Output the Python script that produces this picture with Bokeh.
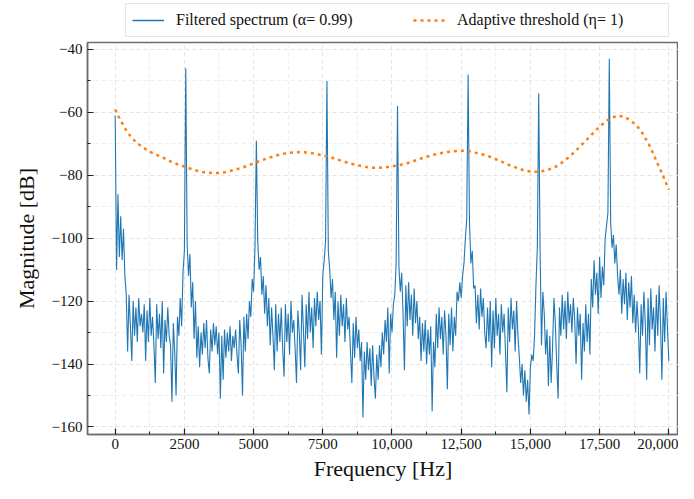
from bokeh.plotting import figure
from bokeh.layouts import column
from bokeh.models import FixedTicker, Legend, LegendItem, Range1d
from bokeh.embed import file_html
from bokeh.resources import INLINE

# ---- data ----
bin_hz = 50
spectrum_db = [
    -61, -110, -86, -106, -93, -107, -97, -112, -118, -136,
    -118, -128, -139, -120, -131, -122, -133, -119, -128, -124,
    -130, -121, -139, -123, -133, -119, -131, -125, -134, -146,
    -121, -132, -124, -135, -120, -143, -126, -133, -122, -131,
    -134, -152, -127, -136, -150, -125, -131, -119, -128, -111,
    -104, -46, -102, -112, -105, -122, -114, -132, -120, -138,
    -128, -141, -130, -137, -127, -135, -126, -138, -143, -129,
    -136, -127, -134, -128, -137, -130, -151, -131, -145, -129,
    -138, -130, -136, -128, -139, -131, -135, -129, -137, -143,
    -126, -134, -150, -125, -136, -124, -132, -120, -125, -113,
    -117, -103, -69, -101, -110, -106, -118, -112, -124, -115,
    -128, -119, -134, -122, -131, -142, -121, -136, -124, -133,
    -122, -135, -144, -121, -133, -124, -137, -120, -130, -126,
    -135, -146, -123, -130, -142, -118, -129, -141, -121, -132,
    -117, -130, -122, -135, -119, -128, -117, -126, -120, -137,
    -112, -107, -101, -50, -104, -110, -119, -113, -126, -117,
    -138, -120, -131, -118, -128, -121, -133, -119, -129, -125,
    -136, -146, -127, -138, -125, -135, -129, -139, -133, -157,
    -136, -145, -133, -142, -135, -147, -134, -144, -151, -137,
    -145, -134, -141, -130, -137, -126, -133, -122, -143, -124,
    -130, -121, -118, -108, -58, -109, -117, -111, -124, -142,
    -115, -128, -114, -126, -118, -131, -116, -127, -120, -132,
    -125, -139, -127, -136, -126, -140, -129, -137, -128, -155,
    -133, -141, -124, -135, -122, -132, -125, -137, -123, -131,
    -148, -124, -134, -122, -136, -125, -131, -117, -120, -114,
    -119, -112, -108, -100, -94, -48, -95, -108, -104, -116,
    -115, -127, -118, -129, -116, -125, -119, -130, -135, -122,
    -133, -120, -141, -123, -135, -119, -131, -124, -137, -121,
    -130, -124, -136, -149, -122, -133, -119, -129, -123, -136,
    -120, -131, -138, -146, -140, -150, -142, -152, -145, -156,
    -141, -137, -139, -131, -115, -103, -54, -104, -134, -117,
    -124, -137, -129, -147, -131, -146, -135, -119, -127, -140,
    -151, -122, -131, -118, -129, -120, -132, -117, -127, -121,
    -130, -119, -126, -140, -122, -131, -124, -145, -127, -136,
    -121, -133, -124, -137, -113, -122, -107, -118, -111, -124,
    -106, -119, -109, -115, -100, -96, -92, -43, -95, -103,
    -99, -108, -102, -112, -118, -110, -124, -113, -121, -111,
    -126, -114, -122, -112, -127, -118, -130, -120, -128, -143,
    -121, -131, -117, -127, -145, -119, -134, -116, -129, -122,
    -136, -118, -131, -115, -127, -145, -119, -133, -117, -128,
    -139,
]
freq_hz = [i * bin_hz for i in range(len(spectrum_db))]

thr_freq = [0, 100, 200, 300, 450, 600, 750, 900, 1100, 1300, 1500, 1750,
            2000, 2250, 2500, 2750, 3000, 3250, 3500, 3750, 4000, 4250,
            4500, 4750, 5000, 5250, 5500, 5750, 6000, 6250, 6500, 6750,
            7000, 7250, 7500, 7750, 8000, 8250, 8500, 8750, 9000, 9250,
            9500, 9750, 10000, 10250, 10500, 10750, 11000, 11250, 11500,
            11750, 12000, 12250, 12500, 12750, 13000, 13250, 13500, 13750,
            14000, 14250, 14500, 14750, 15000, 15250, 15500, 15750, 16000,
            16200, 16400, 16600, 16800, 17000, 17200, 17400, 17600, 17800,
            18000, 18200, 18400, 18600, 18800, 19000, 19150, 19300, 19450,
            19600, 19750, 19900, 20000]
thr_db = [-59.1, -61.0, -62.6, -64.2, -66.5, -68.0, -69.5, -70.5, -71.7, -72.7,
          -73.5, -74.5, -75.6, -76.5, -77.2, -78.0, -78.7, -79.1, -79.3, -79.3,
          -79.0, -78.4, -77.8, -77.1, -76.2, -75.4, -74.6, -73.9, -73.3, -72.9,
          -72.7, -72.6, -72.8, -73.2, -73.7, -74.2, -74.9, -75.6, -76.3, -76.8,
          -77.3, -77.6, -77.6, -77.5, -77.2, -76.8, -76.3, -75.6, -74.8, -74.1,
          -73.5, -73.0, -72.6, -72.4, -72.2, -72.3, -72.8, -73.3, -74.0, -74.9,
          -75.8, -76.8, -77.6, -78.4, -78.8, -78.9, -78.6, -77.9, -76.9, -75.6,
          -74.2, -72.5, -70.8, -69.0, -67.2, -65.4, -63.8, -62.4, -61.5, -61.1,
          -61.4, -62.5, -63.9, -65.9, -68.2, -70.5, -73.4, -76.4, -79.3, -82.5,
          -84.6]

x_ticks = [0, 2500, 5000, 7500, 10000, 12500, 15000, 17500, 20000]
x_tick_labels = ["0", "2500", "5000", "7500", "10,000", "12,500", "15,000",
                 "17,500", "20,000"]
x_minor = [1250, 3750, 6250, 8750, 11250, 13750, 16250, 18750]
y_ticks = [-160, -140, -120, -100, -80, -60, -40]
y_tick_labels = ["\u2212160", "\u2212140", "\u2212120", "\u2212100", "\u221280",
                 "\u221260", "\u221240"]
y_minor = [-150, -130, -110, -90, -70, -50]

label_spectrum = "Filtered spectrum (\u03b1= 0.99)"
label_threshold = "Adaptive threshold (\u03b7= 1)"

# ---- styles ----
FONT = "Liberation Serif"
BLUE, ORANGE = "#1f77b4", "#ff7f0e"
W = 678
LEG_H = 41
MAIN_H = 442
LEFT, BOTTOM = 87, 48

# ---- legend strip (sits above the plot frame; its frame is aligned with the plot's) ----
p_leg = figure(width=W, height=LEG_H, output_backend="svg",
               toolbar_location=None, x_axis_type=None, y_axis_type=None,
               x_range=Range1d(0, 1), y_range=Range1d(0, 1), min_border=0)
p_leg.outline_line_color = None
p_leg.background_fill_color = "white"
p_leg.border_fill_color = "white"
p_leg.xgrid.visible = False
p_leg.ygrid.visible = False
# same series as the plot; they fall outside this strip's ranges, so only the legend shows
lg1 = p_leg.line(freq_hz, spectrum_db, line_color=BLUE, line_width=1.3)
lg2 = p_leg.line(thr_freq, thr_db, line_color=ORANGE, line_width=2.5,
                 line_dash="3 4")

legend = Legend(items=[LegendItem(label=label_spectrum, renderers=[lg1]),
                       LegendItem(label=label_threshold, renderers=[lg2])],
                orientation="horizontal", location=(38, 4))
legend.label_text_font = FONT
legend.label_text_font_size = "16px"
legend.label_text_color = "#111111"
legend.border_line_color = "#cccccc"
legend.border_line_width = 1
legend.background_fill_color = "white"
legend.background_fill_alpha = 1
legend.padding = 6
legend.spacing = 32
legend.glyph_width = 32
legend.glyph_height = 20
legend.label_standoff = 12
legend.label_width = 205
legend.margin = 0
p_leg.add_layout(legend)

# ---- main plot ----
p = figure(width=W, height=MAIN_H,
           x_range=Range1d(-1000, 20350), y_range=Range1d(-162.4, -37.8),
           output_backend="svg", toolbar_location=None,
           min_border_left=LEFT, min_border_top=1, min_border_right=0,
           min_border_bottom=BOTTOM)
p.background_fill_color = "white"
p.border_fill_color = "white"
p.outline_line_color = "#6e6e6e"
p.outline_line_width = 1.5

p.line(freq_hz, spectrum_db, line_color=BLUE, line_width=1.1)
p.line(thr_freq, thr_db, line_color=ORANGE, line_width=2.5, line_dash="3 4")

p.xaxis.ticker = FixedTicker(ticks=x_ticks, minor_ticks=x_minor)
p.yaxis.ticker = FixedTicker(ticks=y_ticks, minor_ticks=y_minor)
p.xaxis.major_label_overrides = dict(zip(x_ticks, x_tick_labels))
p.yaxis.major_label_overrides = dict(zip(y_ticks, y_tick_labels))

for ax in (p.xaxis, p.yaxis):
    ax.axis_line_color = "#6e6e6e"
    ax.axis_line_width = 1.5
    ax.major_tick_in = 6
    ax.major_tick_out = 0
    ax.minor_tick_in = 3
    ax.minor_tick_out = 0
    ax.major_tick_line_color = "#222222"
    ax.minor_tick_line_color = "#222222"
    ax.major_tick_line_width = 1.2
    ax.major_label_text_font = FONT
    ax.major_label_text_font_size = "15px"
    ax.major_label_text_color = "#111111"
    ax.axis_label_text_font = FONT
    ax.axis_label_text_font_size = "22px"
    ax.axis_label_text_font_style = "normal"
    ax.axis_label_text_color = "#111111"

p.xaxis.major_label_standoff = 4
p.xaxis.axis_label_standoff = 4
p.yaxis.major_label_standoff = 5
p.yaxis.axis_label_standoff = 10

p.xaxis.axis_label = "Frequency [Hz]"
p.yaxis.axis_label = "Magnitude [dB]"

for g in (p.xgrid, p.ygrid):
    g.grid_line_color = "#e3e3e3"
    g.grid_line_dash = "4 3"
    g.grid_line_width = 1
    g.minor_grid_line_color = "#eeeeee"
    g.minor_grid_line_dash = "4 3"
    g.minor_grid_line_width = 1

layout = column(p_leg, p, spacing=0)
open("out.html", "w").write(file_html(layout, INLINE))
